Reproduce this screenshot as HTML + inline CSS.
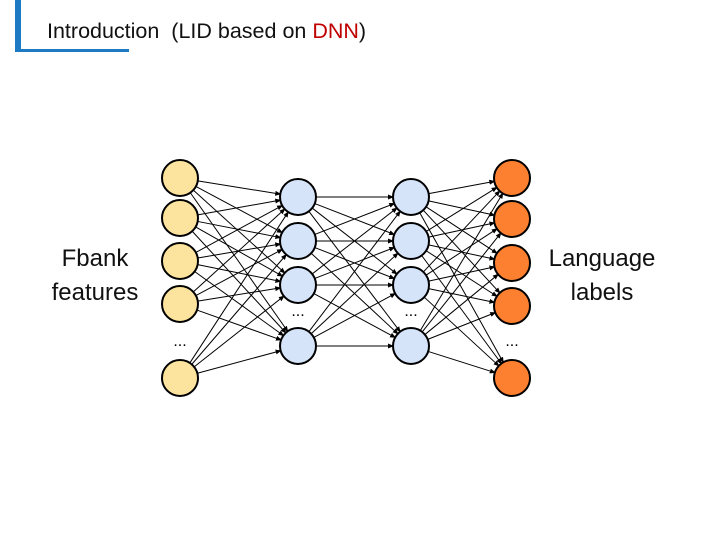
<!DOCTYPE html>
<html><head><style>
body{margin:0;width:720px;height:540px;background:#fff;position:relative;overflow:hidden;font-family:"Liberation Sans",sans-serif}
.t{position:absolute;left:47px;top:19px;font-size:21.5px;color:#111}
.l{position:absolute;font-size:24px;color:#111;text-align:center;line-height:34px}
</style></head><body>
<div style="position:absolute;left:15px;top:0;width:6px;height:52px;background:#1f7ac4"></div>
<div style="position:absolute;left:15px;top:49px;width:114px;height:3px;background:#1f7ac4"></div>
<div class="t">Introduction &nbsp;(LID based on <span style="color:#c00000">DNN</span>)</div>
<div class="l" style="left:40px;top:242px;width:110px">Fbank<br>features</div>
<div class="l" style="left:540px;top:242px;width:124px">Language<br>labels</div>
<svg id="s" width="720" height="540" style="position:absolute;left:0;top:0">
<defs><marker id="a" markerWidth="6" markerHeight="6" refX="5" refY="3" orient="auto" markerUnits="userSpaceOnUse"><path d="M0,0.5L6,3L0,5.5z" fill="#000"/></marker></defs>
</svg>
<script>
var s=document.getElementById('s'),r=18,NS='http://www.w3.org/2000/svg';
var L=[{x:180,y:[178,218,261,304,378],f:'#fde49e'},{x:298,y:[197,241,285,346],f:'#d6e4fa'},{x:411,y:[197,241,285,346],f:'#d6e4fa'},{x:512,y:[178,219,263,306,378],f:'#fd8030'}];
function e(n,a){var o=document.createElementNS(NS,n);for(var k in a)o.setAttribute(k,a[k]);s.appendChild(o);return o}
for(var i=0;i<3;i++){var A=L[i],B=L[i+1];A.y.forEach(function(y1){B.y.forEach(function(y2){var dx=B.x-A.x,dy=y2-y1,d=Math.hypot(dx,dy),ux=dx/d,uy=dy/d;e('line',{x1:A.x+ux*r,y1:y1+uy*r,x2:B.x-ux*r,y2:y2-uy*r,stroke:'#000','stroke-width':1,'marker-end':'url(#a)'})})})}
L.forEach(function(l){l.y.forEach(function(y){e('circle',{cx:l.x,cy:y,r:r,fill:l.f,stroke:'#000','stroke-width':2})})});
[[180,346],[298,316],[411,316],[512,346]].forEach(function(p){var t=e('text',{x:p[0],y:p[1],'font-size':16,'text-anchor':'middle','font-family':'Liberation Sans'});t.textContent='...'});
</script>
</body></html>
